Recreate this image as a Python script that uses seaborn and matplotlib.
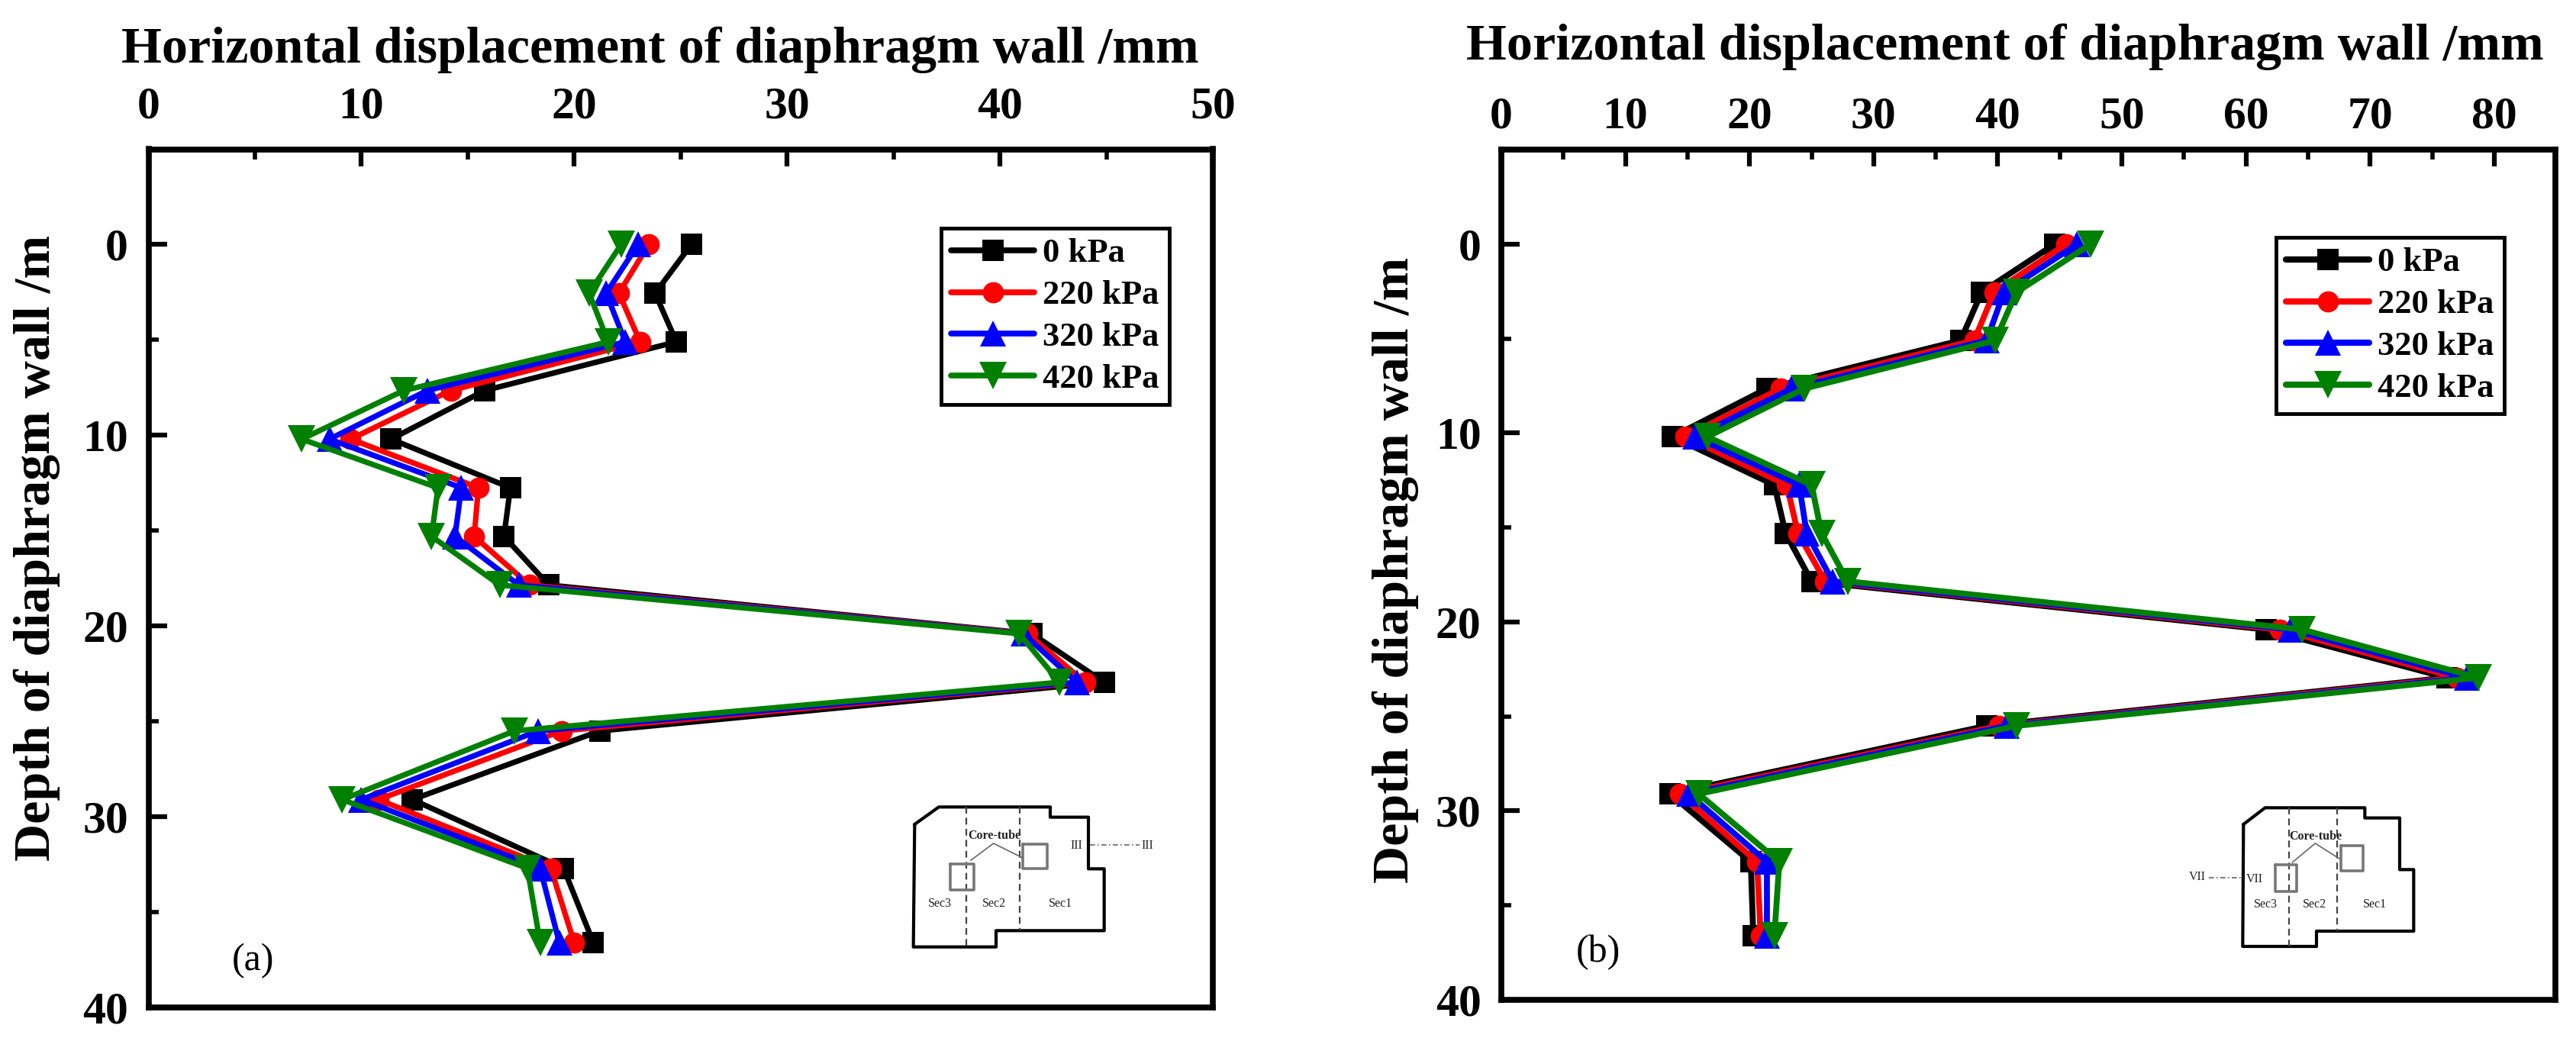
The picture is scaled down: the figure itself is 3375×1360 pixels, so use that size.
import pandas as pd
import matplotlib.pyplot as plt
import seaborn as sns

# depths of the measuring points (m)
depth = [0, 2.55, 5.1, 7.65, 10.2, 12.75, 15.3, 17.85, 20.4, 22.95, 25.5, 29.1, 32.7, 36.6]
loads = ["0 kPa", "220 kPa", "320 kPa", "420 kPa"]

# panel (a)
a_0 = [25.5, 23.8, 24.8, 15.8, 11.4, 17.0, 16.7, 18.8, 41.5, 44.9, 21.2, 12.4, 19.5, 20.9]
a_220 = [23.5, 22.1, 23.1, 14.2, 9.5, 15.5, 15.3, 17.9, 41.3, 44.0, 19.4, 10.8, 18.9, 20.0]
a_320 = [23.0, 21.5, 22.4, 13.1, 8.5, 14.7, 14.4, 17.4, 41.1, 43.6, 18.3, 10.0, 18.4, 19.3]
a_420 = [22.2, 20.7, 21.6, 12.0, 7.2, 13.6, 13.3, 16.5, 40.9, 42.8, 17.2, 9.1, 17.8, 18.4]

# panel (b)
b_0 = [44.6, 38.7, 37.0, 21.4, 13.8, 22.0, 22.9, 25.0, 61.6, 76.2, 39.1, 13.6, 20.1, 20.3]
b_220 = [45.5, 39.7, 38.1, 22.5, 14.8, 23.0, 23.9, 26.1, 62.7, 77.0, 40.1, 14.4, 20.6, 20.9]
b_320 = [46.4, 40.5, 39.1, 23.4, 15.6, 24.0, 24.6, 26.7, 63.6, 77.8, 40.7, 15.1, 21.4, 21.4]
b_420 = [47.5, 41.5, 39.8, 24.4, 16.6, 25.0, 25.8, 27.9, 64.5, 78.7, 41.5, 15.9, 22.4, 22.0]

colors = {"0 kPa": "black", "220 kPa": "red", "320 kPa": "blue", "420 kPa": "green"}
markers = {"0 kPa": "s", "220 kPa": "o", "320 kPa": "^", "420 kPa": "v"}
msizes = {"s": 20, "o": 20, "^": 24.5, "v": 25.5}

W, H = 3375, 1360

sns.set_style("ticks", rc={"axes.edgecolor": "black", "text.color": "black", "xtick.color": "black",
                           "ytick.color": "black", "axes.labelcolor": "black"})
plt.rcParams["font.family"] = ["Liberation Serif", "DejaVu Serif"]
plt.rcParams["font.weight"] = "bold"

fig = plt.figure(figsize=(W / 100, H / 100), dpi=100)


def make_frame(series):
    rows = []
    for name, vals in zip(loads, series):
        rows.append(pd.DataFrame({"disp": vals, "depth": depth, "load": name}))
    return pd.concat(rows, ignore_index=True)


def panel(box, series, xlim, xticks, xminor, lw, legend_box, xpad, title_pad, title_x, ypad, ylab_y, letter, letter_xy):
    left, top, right, bottom = box
    ax = fig.add_axes([left / W, 1 - bottom / H, (right - left) / W, (bottom - top) / H])
    sns.lineplot(data=make_frame(series), x="disp", y="depth", hue="load", style="load",
                 palette=colors, markers=markers, dashes=False, sort=False, estimator=None,
                 linewidth=lw, markeredgewidth=0, legend=False, ax=ax, clip_on=False)
    for line in ax.lines:
        line.set_markersize(msizes[line.get_marker()])
    ax.set_xlim(*xlim)
    ax.set_ylim(40, -5)
    ax.set_xticks(xticks)
    ax.set_xticks(xminor, minor=True)
    ax.set_yticks([0, 10, 20, 30, 40])
    ax.set_yticks([5, 15, 25, 35], minor=True)
    ax.xaxis.set_label_position("top")
    ax.tick_params(axis="x", which="major", top=True, bottom=False, labeltop=True, labelbottom=False,
                   direction="in", length=16, width=4.5, labelsize=43, pad=xpad)
    ax.tick_params(axis="x", which="minor", top=True, bottom=False, direction="in", length=9, width=4)
    ax.tick_params(axis="y", which="major", direction="in", length=17, width=4.5, labelsize=43, pad=19)
    ax.tick_params(axis="y", which="minor", direction="in", length=9, width=4)
    for side in ax.spines.values():
        side.set_linewidth(5.5)
        side.set_visible(True)
    ax.set_xlabel("Horizontal displacement of diaphragm wall /mm", fontsize=49, fontweight="bold",
                  labelpad=title_pad)
    ax.xaxis.label.set_x(title_x)
    ax.set_ylabel("Depth of diaphragm wall /m", fontsize=49, fontweight="bold", labelpad=ypad)
    ax.yaxis.label.set_y(ylab_y)

    lx0, ly0, lx1, ly1 = legend_box
    leg = ax.legend(ax.lines, loads, loc="upper left",
                    bbox_to_anchor=((lx0 - left) / (right - left), 1 - (ly0 - top) / (bottom - top)),
                    borderaxespad=0, fancybox=False, framealpha=1, edgecolor="black",
                    prop={"size": 32, "weight": "bold"}, handlelength=2.45, handletextpad=0.25,
                    labelspacing=0.33, borderpad=0.3)
    leg.get_frame().set_linewidth(3.5)
    for handle in leg.get_lines():
        handle.set_linewidth(lw + 0.3)
    ax.text(letter_xy[0], letter_xy[1], letter, fontsize=36, fontweight="normal",
            ha="center", va="center", transform=overlay.transData)
    return ax


overlay = fig.add_axes([0, 0, 1, 1], zorder=5)
overlay.set_xlim(0, W)
overlay.set_ylim(H, 0)
overlay.axis("off")

panel((194.5, 195.5, 1589, 1320), [a_0, a_220, a_320, a_420], (0, 50), range(0, 51, 10),
      range(5, 50, 10), 5.2, (1233, 299, 1531, 529), 20, 23, 0.481, 21, 0.535, "(a)", (332, 1259))
panel((1967, 196, 3348, 1310), [b_0, b_220, b_320, b_420], (0, 84.93), range(0, 81, 10),
      range(5, 80, 10), 5.6, (2982, 311, 3280, 540), 11, 35, 0.478, 16, 0.505, "(b)", (2094, 1248))

a_origin = (1150, 1000)
a_outline = [(145, 240), (240, 172), (678, 172), (678, 212), (828, 212), (828, 415), (890, 415),
             (890, 658), (465, 658), (465, 722), (140, 722), (145, 240)]
a_dash = [[(347, 172), (347, 722)], [(557, 172), (557, 658)]]
a_squares = [(285, 395, 378, 497), (570, 318, 665, 415)]
a_pointer = [(365, 382), (455, 315), (570, 372)]
a_labels = [("Core-tube", 458, 285), ("Sec3", 243, 552), ("Sec2", 458, 552), ("Sec1", 718, 552),
            ("III", 782, 325), ("III", 1060, 325)]
a_section = [(835, 320), (1030, 320)]

b_origin = (2800, 1000)
b_outline = [(418, 240), (503, 175), (895, 175), (895, 215), (1032, 215), (1032, 418), (1087, 418),
             (1087, 660), (705, 660), (705, 720), (415, 720), (418, 240)]
b_dash = [[(598, 175), (598, 720)], [(787, 175), (787, 660)]]
b_squares = [(542, 400, 628, 503), (800, 325, 888, 422)]
b_pointer = [(610, 390), (700, 315), (795, 375)]
b_labels = [("Core-tube", 700, 288), ("Sec3", 505, 555), ("Sec2", 698, 555), ("Sec1", 933, 555),
            ("VII", 235, 448), ("VII", 460, 455)]
b_section = [(283, 450), (410, 450)]


def sketch(origin, outline, dash, squares, pointer, labels, section):
    ox, oy = origin

    def pts(seq):
        return [ox + p[0] / 3 for p in seq], [oy + p[1] / 3 for p in seq]

    overlay.plot(*pts(outline), color="black", lw=3)
    for d in dash:
        overlay.plot(*pts(d), color="#444444", lw=1.6, ls=(0, (4, 2.5)))
    for x0, y0, x1, y1 in squares:
        sq = [(x0, y0), (x1, y0), (x1, y1), (x0, y1), (x0, y0)]
        overlay.plot(*pts(sq), color="#777777", lw=2.6)
    overlay.plot(*pts(pointer), color="#666666", lw=1.2)
    overlay.plot(*pts(section), color="#666666", lw=1.2, ls=(0, (4, 2, 1, 2)))
    for txt, x, y in labels:
        overlay.text(ox + x / 3, oy + y / 3, txt, fontsize=11.5, ha="center", va="center",
                     fontweight="bold" if txt == "Core-tube" else "normal", color="#222222")


sketch(a_origin, a_outline, a_dash, a_squares, a_pointer, a_labels, a_section)
sketch(b_origin, b_outline, b_dash, b_squares, b_pointer, b_labels, b_section)

plt.savefig("out.png", dpi=100)
